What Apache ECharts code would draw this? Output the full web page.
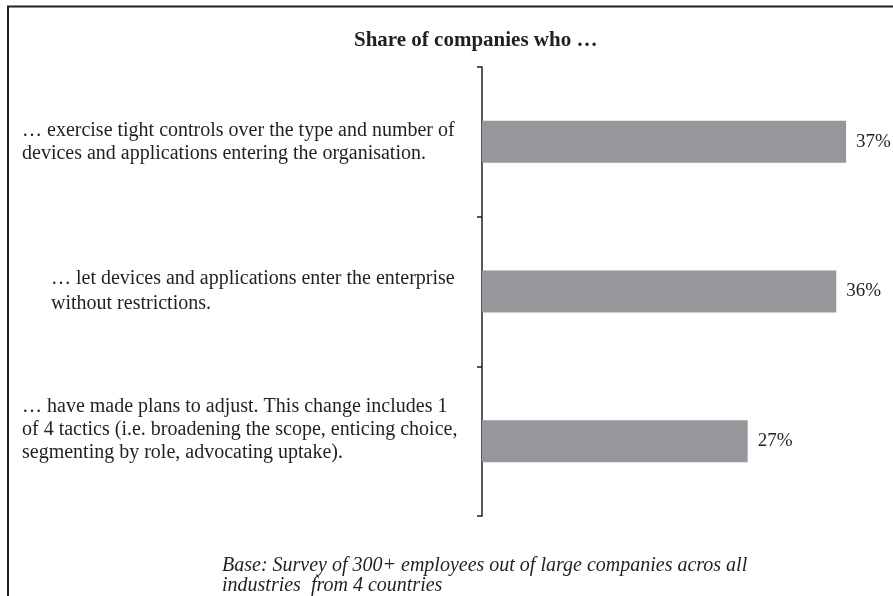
<!DOCTYPE html>
<html>
<head>
<meta charset="utf-8">
<script src="https://cdn.jsdelivr.net/npm/echarts@6/dist/echarts.min.js"></script>
<style>
    html, body {margin: 0; padding: 0; background: #fff;}
    #app {width: 893px; height: 596px;}
</style>
</head>
<body>
<div id="app"></div>
<script>
    //分类与数值
    var categories = [
        '… exercise tight controls over the type and number of\ndevices and applications entering the organisation.',
        '… let devices and applications enter the enterprise\nwithout restrictions.',
        '… have made plans to adjust. This change includes 1\nof 4 tactics (i.e. broadening the scope, enticing choice,\nsegmenting by role, advocating uptake).'
    ]
    var shares = [37, 36, 27]
    var titleText = 'Share of companies who …'
    var noteText = 'Base: Survey of 300+ employees out of large companies acros all\nindustries  from 4 countries'

    var serif = '"Liberation Serif", "DejaVu Serif", serif'
    var chart = echarts.init(document.getElementById('app'))

    chart.setOption({
        animation: false,
        title: [
            {
                text: titleText,
                left: 349,
                top: 25,
                textStyle: {fontFamily: serif, fontSize: 21, fontWeight: 'bold', color: '#231f20'}
            },
            {
                text: noteText,
                left: 217,
                top: 551,
                textStyle: {fontFamily: serif, fontSize: 20, fontStyle: 'italic', fontWeight: 'normal', color: '#231f20', lineHeight: 20}
            }
        ],
        graphic: [
            {type: 'line', shape: {x1: 7, y1: 6.5, x2: 893, y2: 6.5}, style: {stroke: '#222', lineWidth: 2}},
            {type: 'line', shape: {x1: 8, y1: 6, x2: 8, y2: 596}, style: {stroke: '#222', lineWidth: 2}}
        ],
        grid: {left: 482, right: 17.4, top: 67, bottom: 80},
        xAxis: {
            type: 'value',
            min: 0,
            max: 40,
            show: false
        },
        yAxis: {
            type: 'category',
            inverse: true,
            data: categories,
            axisLine: {show: true, lineStyle: {color: '#231f20', width: 1.5}},
            axisTick: {show: true, length: 5, lineStyle: {color: '#231f20', width: 1.5}},
            axisLabel: {
                align: 'left',
                margin: 460,
                fontFamily: serif,
                fontSize: 20,
                lineHeight: 23,
                color: '#231f20',
                formatter: (value, idx) => {
                    if (idx === 1) {
                        return value.split('\n').map(s => '{b|' + s + '}').join('\n')
                    }
                    if (idx === 2) {
                        return value + '\n'
                    }
                    return value
                },
                rich: {
                    b: {padding: [0, 0, 0, 29], fontFamily: serif, fontSize: 20, lineHeight: 25, color: '#231f20'}
                }
            }
        },
        series: [
            {
                type: 'bar',
                data: shares,
                barWidth: 42,
                itemStyle: {color: '#96979b'},
                label: {
                    show: true,
                    position: 'right',
                    distance: 10,
                    formatter: '{c}%',
                    fontFamily: serif,
                    fontSize: 19,
                    color: '#231f20'
                }
            }
        ]
    })
</script>
</body>
</html>
